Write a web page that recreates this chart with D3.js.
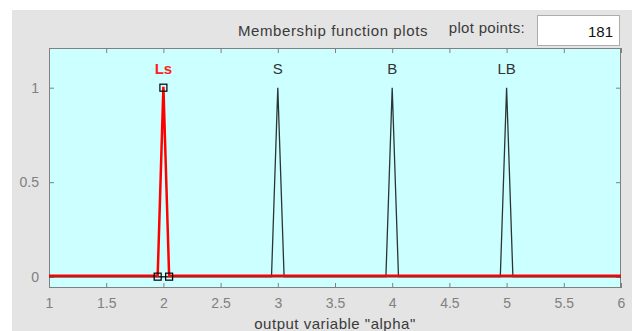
<!DOCTYPE html>
<html><head><meta charset="utf-8">
<script src="https://cdn.jsdelivr.net/npm/d3@7"></script>
<style>
html,body{margin:0;padding:0;background:#fff;}
svg{display:block;font-family:"Liberation Sans",Arial,sans-serif;}
</style></head>
<body>
<script>
// ---- data ----
const mfNames = ["Ls", "S", "B", "LB"];
const mfParams = [[1.95, 2, 2.05], [2.945, 3, 3.055], [3.945, 4, 4.055], [4.945, 5, 5.055]];
const selectedMF = "Ls";
const xRange = [1, 6];
const yRange = [-0.06, 1.21];
const xTicks = [1, 1.5, 2, 2.5, 3, 3.5, 4, 4.5, 5, 5.5, 6];
const yTicks = [0, 0.5, 1];
const titleText = "Membership function plots";
const plotPointsLabel = "plot points:";
const plotPoints = "181";
const xLabelText = 'output variable "alpha"';

const W = 632, H = 331;
const svg = d3.select("body").append("svg").attr("width", W).attr("height", H);

// panel
svg.append("rect").attr("x", 12).attr("y", 10).attr("width", W - 12).attr("height", H - 10).attr("fill", "#e4e4e4");

const m = {left: 49, right: 621, top: 48, bottom: 288};
const x = d3.scaleLinear().domain(xRange).range([m.left, m.right]);
const y = d3.scaleLinear().domain(yRange).range([m.bottom, m.top]);

// title + plot points box
svg.append("text").attr("x", 333).attr("y", 36).attr("text-anchor", "middle")
  .attr("font-size", 15).attr("letter-spacing", 0.6).attr("fill", "#3a3a3a").text(titleText);
svg.append("text").attr("x", 525).attr("y", 33).attr("text-anchor", "end")
  .attr("font-size", 15).attr("letter-spacing", 0.3).attr("fill", "#3a3a3a").text(plotPointsLabel);
svg.append("rect").attr("x", 537.5).attr("y", 15.5).attr("width", 82).attr("height", 30)
  .attr("fill", "#fff").attr("stroke", "#adadad");
svg.append("text").attr("x", 613).attr("y", 37).attr("text-anchor", "end")
  .attr("font-size", 15).attr("fill", "#111").text(plotPoints);

// axes background
svg.append("rect").attr("x", m.left).attr("y", m.top).attr("width", m.right - m.left).attr("height", m.bottom - m.top)
  .attr("fill", "#ccffff");

// axes with inward ticks
const tickColor = "#808080";
const bottomAx = svg.append("g").attr("transform", `translate(0,${m.bottom})`)
  .call(d3.axisBottom(x).tickValues(xTicks).tickSizeInner(-5).tickSizeOuter(0).tickPadding(10).tickFormat(d3.format("")));
const topAx = svg.append("g").attr("transform", `translate(0,${m.top})`)
  .call(d3.axisTop(x).tickValues(xTicks).tickSizeInner(-5).tickSizeOuter(0).tickFormat(""));
const leftAx = svg.append("g").attr("transform", `translate(${m.left},0)`)
  .call(d3.axisLeft(y).tickValues(yTicks).tickSizeInner(-5).tickSizeOuter(0).tickPadding(10).tickFormat(d3.format("")));
const rightAx = svg.append("g").attr("transform", `translate(${m.right},0)`)
  .call(d3.axisRight(y).tickValues(yTicks).tickSizeInner(-5).tickSizeOuter(0).tickFormat(""));
[bottomAx, topAx, leftAx, rightAx].forEach(g => {
  g.select(".domain").remove();
  g.selectAll("line").attr("stroke", tickColor);
  g.selectAll("text").attr("fill", "#808080").attr("font-size", 14).attr("font-family", "Liberation Sans, Arial, sans-serif");
});
// border
svg.append("rect").attr("x", m.left + 0.5).attr("y", m.top + 0.5).attr("width", m.right - m.left - 1).attr("height", m.bottom - m.top - 1)
  .attr("fill", "none").attr("stroke", tickColor);

// x label
svg.append("text").attr("x", (m.left + m.right) / 2).attr("y", 329).attr("text-anchor", "middle")
  .attr("font-size", 15).attr("letter-spacing", 0.5).attr("fill", "#3a3a3a").text(xLabelText);

// MF lines
const line = d3.line().x(d => x(d[0])).y(d => y(d[1]));
const mfPts = p => [[xRange[0], 0], [p[0], 0], [p[1], 1], [p[2], 0], [xRange[1], 0]];
const order = mfNames.map((n, i) => i).sort((a, b) => (mfNames[a] === selectedMF) - (mfNames[b] === selectedMF));
order.forEach(i => {
  const sel = mfNames[i] === selectedMF;
  svg.append("path").datum(mfPts(mfParams[i])).attr("d", line)
    .attr("fill", "none").attr("stroke", sel ? "#ff0000" : "#2b3535")
    .attr("stroke-width", sel ? 2.5 : 1.3).attr("stroke-linejoin", "miter")
    .attr("transform", sel ? "translate(0,-1)" : null);
  svg.append("text").attr("x", x(mfParams[i][1])).attr("y", y(1.075)).attr("text-anchor", "middle")
    .attr("font-size", 15).attr("font-weight", sel ? "bold" : "normal")
    .attr("fill", sel ? "#ff2020" : "#333").text(mfNames[i]);
});
// parameter squares for selected MF
const si = mfNames.indexOf(selectedMF);
svg.selectAll(".sq").data(mfParams[si]).enter().append("rect")
  .attr("x", d => x(d) - 3.5).attr("y", (d, k) => y(k === 1 ? 1 : 0) - 3.5)
  .attr("width", 7).attr("height", 7).attr("fill", "none").attr("stroke", "#000").attr("stroke-width", 1.2);
</script>
</body></html>
